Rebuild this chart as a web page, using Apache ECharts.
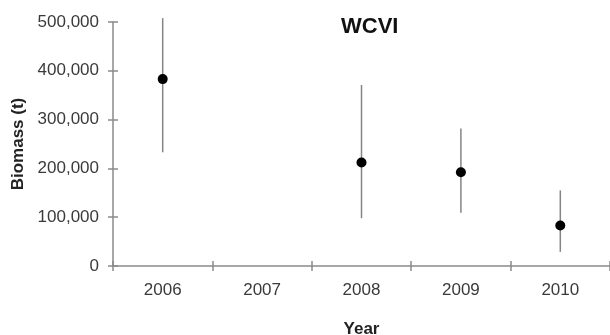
<!DOCTYPE html>
<html><head><meta charset="utf-8">
<script src="https://cdn.jsdelivr.net/npm/echarts@6/dist/echarts.min.js"></script>
<style>html,body{margin:0;padding:0;background:#fff}#c{width:610px;height:335px}</style>
</head><body><div id="c"></div>
<script>
var years = ['2006','2007','2008','2009','2010'];
var biomass = [383000, null, 212000, 192000, 83000];
var lower = [233000, null, 98000, 109000, 29000];
var upper = [508000, null, 371000, 282000, 155000];
var yTicks = [0, 100000, 200000, 300000, 400000, 500000];

var errData = [];
var ptData = [];
for (var i = 0; i < years.length; i++) {
  if (biomass[i] != null) {
    errData.push([i, lower[i], upper[i]]);
    ptData.push([i, biomass[i]]);
  }
}
function fmt(v){ return String(v).replace(/\B(?=(\d{3})+(?!\d))/g, ','); }

var chart = echarts.init(document.getElementById('c'), null, {renderer:'canvas'});
var axisColor = '#8a8a8a';
var labelStyle = {fontFamily:'Arial, Liberation Sans, sans-serif', fontSize:17, color:'#3a3a3a'};
var nameStyle = {fontFamily:'Arial, Liberation Sans, sans-serif', fontSize:17, fontWeight:'bold', color:'#222'};
chart.setOption({
  animation:false,
  backgroundColor:'#fff',
  title:{text:'WCVI', left:336, top:11, textStyle:{fontFamily:'Arial, Liberation Sans, sans-serif', fontSize:22, fontWeight:'bold', color:'#111'}},
  grid:{left:113, right:0, top:22, bottom:69, containLabel:false, outerBoundsMode:'none'},
  xAxis:[{
    type:'category', data:years, boundaryGap:true,
    axisLine:{lineStyle:{color:axisColor, width:1.5}},
    axisTick:{show:true, inside:false, length:5, lineStyle:{color:axisColor, width:1.5}},
    axisLabel:Object.assign({margin:16}, labelStyle),
    splitLine:{show:false},
    name:'Year', nameLocation:'middle', nameGap:55, nameTextStyle:nameStyle
  },{
    type:'category', data:years, boundaryGap:true, position:'bottom',
    axisLine:{show:false},
    axisTick:{show:true, inside:true, length:5, lineStyle:{color:axisColor, width:1.5}},
    axisLabel:{show:false}, splitLine:{show:false}
  }],
  yAxis:[{
    type:'value', min:yTicks[0], max:yTicks[yTicks.length-1], interval:100000,
    axisLine:{show:true, lineStyle:{color:axisColor, width:1.5}},
    axisTick:{show:true, inside:false, length:5, lineStyle:{color:axisColor, width:1.5}},
    axisLabel:Object.assign({margin:14, formatter:fmt}, labelStyle),
    splitLine:{show:false},
    name:'Biomass (t)', nameLocation:'middle', nameGap:86, nameRotate:90, nameTextStyle:nameStyle
  },{
    type:'value', min:yTicks[0], max:yTicks[yTicks.length-1], interval:100000, position:'left',
    axisLine:{show:false},
    axisTick:{show:true, inside:true, length:5, lineStyle:{color:axisColor, width:1.5}},
    axisLabel:{show:false}, splitLine:{show:false}
  }],
  series:[{
    type:'custom', xAxisIndex:0, yAxisIndex:0, data:errData,
    renderItem:function(params, api){
      var p1 = api.coord([api.value(0), api.value(1)]);
      var p2 = api.coord([api.value(0), api.value(2)]);
      return {type:'line', shape:{x1:p1[0], y1:p1[1], x2:p2[0], y2:p2[1]},
        style:{stroke:'#858585', lineWidth:1.5}};
    }
  },{
    type:'scatter', xAxisIndex:0, yAxisIndex:0, data:ptData, symbol:'circle', symbolSize:10,
    itemStyle:{color:'#000', opacity:1}, z:5
  }]
});
</script></body></html>
